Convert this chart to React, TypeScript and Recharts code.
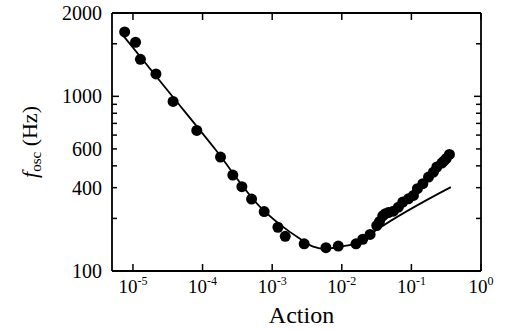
import { ComposedChart, Line, XAxis, YAxis } from 'recharts';

// measured oscillation frequency vs. action (dots)
const actionPts = [
  7.6e-6, 1.09e-5, 1.28e-5, 2.14e-5, 3.77e-5, 8.26e-5, 1.81e-4, 2.72e-4, 3.67e-4, 5.06e-4,
  7.68e-4, 1.21e-3, 1.54e-3, 2.88e-3, 5.92e-3, 8.9e-3, 0.016, 0.02, 0.0255, 0.0318,
  0.0348, 0.0388, 0.0423, 0.0467, 0.0551, 0.065, 0.0752, 0.0905, 0.107, 0.122,
  0.146, 0.176, 0.207, 0.232, 0.274, 0.294, 0.316, 0.352,
];
const freqPts = [
  2336, 2040, 1630, 1343, 935, 638, 449, 354, 304, 258,
  219, 178, 158, 143, 136, 139, 143, 152, 162, 182,
  192, 207, 213, 216, 220, 232, 248, 259, 271, 296,
  316, 345, 368, 394, 415, 427, 440, 465,
];

// fitted curve (solid line)
const actionFit = [7.18e-6, 3.37e-5, 1.5e-4, 6.65e-4, 1.29e-3, 2.51e-3, 3.89e-3, 5.92e-3, 9.42e-3, 0.016, 0.0204, 0.0318, 0.369];
const freqFit = [2237, 1045, 501, 234, 185, 153, 138, 134, 138, 144, 152, 172, 302];

const xTicks = [1e-5, 1e-4, 1e-3, 1e-2, 1e-1, 1];
const yTicks = [100, 200, 300, 400, 500, 600, 700, 800, 900, 1000, 2000, 3000];
const yMajor = [100, 1000];
// labels as printed on the original figure
const yTickLabels: Record<number, string> = { 100: '100', 300: '400', 500: '600', 1000: '1000', 3000: '2000' };

const points = actionPts.map((a, i) => ({ a, f: freqPts[i] }));
const fit = actionFit.map((a, i) => ({ a, f: freqFit[i] }));

const FONT = '"Liberation Serif", "Times New Roman", serif';
const AXIS = { stroke: '#000', strokeWidth: 1.8 };

function BottomTick({ x, y, payload }: any) {
  const exp = Math.round(Math.log10(payload.value));
  return (
    <g>
      <line x1={x} x2={x} y1={y} y2={y - 7} stroke="#000" strokeWidth={1.5} />
      <text x={x} y={y + 22} textAnchor="middle" fontFamily={FONT} fontSize={19} fill="#000">
        10<tspan dy={-8} fontSize={12}>{String(exp)}</tspan>
      </text>
    </g>
  );
}

function TopTick({ x, y }: any) {
  return <line x1={x} x2={x} y1={y} y2={y + 7} stroke="#000" strokeWidth={1.5} />;
}

function LeftTick({ x, y, payload }: any) {
  const len = yMajor.includes(payload.value) ? 7 : 5;
  const label = yTickLabels[payload.value];
  return (
    <g>
      <line x1={x} x2={x + len} y1={y} y2={y} stroke="#000" strokeWidth={1.5} />
      {label && (
        <text x={x - 10} y={y} dy="0.35em" textAnchor="end" fontFamily={FONT} fontSize={20} fill="#000">
          {label}
        </text>
      )}
    </g>
  );
}

function RightTick({ x, y, payload }: any) {
  const len = yMajor.includes(payload.value) ? 7 : 5;
  return <line x1={x} x2={x - len} y1={y} y2={y} stroke="#000" strokeWidth={1.5} />;
}

const yLabel = ({ viewBox }: any) => {
  const cx = viewBox.x + 37;
  const cy = viewBox.y + viewBox.height / 2;
  return (
    <text x={cx} y={cy} transform={`rotate(-90 ${cx} ${cy})`} textAnchor="middle" fontFamily={FONT} fontSize={22} fill="#000">
      <tspan fontStyle="italic">f</tspan>
      <tspan fontSize={15} dy={4}>osc</tspan>
      <tspan dy={-4}> (Hz)</tspan>
    </text>
  );
};

const xLabel = ({ viewBox }: any) => (
  <text x={viewBox.x + viewBox.width / 2 + 5} y={323} textAnchor="middle" fontFamily={FONT} fontSize={24} fill="#000">
    Action
  </text>
);

export default function App() {
  return (
    <div style={{ position: 'absolute', left: 0, top: 0, background: '#fff' }}>
      <ComposedChart width={505} height={331} margin={{ top: 0, right: 0, bottom: 0, left: 0 }}>
        <XAxis
          dataKey="a"
          type="number"
          scale="log"
          domain={[5e-6, 1]}
          allowDataOverflow
          ticks={xTicks}
          interval={0}
          height={60}
          tickSize={0}
          tickMargin={0}
          tickLine={false}
          axisLine={AXIS}
          tick={<BottomTick />}
          label={xLabel}
        />
        <XAxis
          xAxisId="top"
          orientation="top"
          dataKey="a"
          type="number"
          scale="log"
          domain={[5e-6, 1]}
          allowDataOverflow
          ticks={xTicks}
          interval={0}
          height={13}
          tickSize={0}
          tickMargin={0}
          tickLine={false}
          axisLine={AXIS}
          tick={<TopTick />}
        />
        <YAxis
          type="number"
          scale="log"
          domain={[100, 3000]}
          allowDataOverflow
          ticks={yTicks}
          interval={0}
          width={112}
          tickSize={0}
          tickMargin={0}
          tickLine={false}
          axisLine={AXIS}
          tick={<LeftTick />}
          label={yLabel}
        />
        <YAxis
          yAxisId="right"
          orientation="right"
          type="number"
          scale="log"
          domain={[100, 3000]}
          allowDataOverflow
          ticks={yTicks}
          interval={0}
          width={24}
          tickSize={0}
          tickMargin={0}
          tickLine={false}
          axisLine={AXIS}
          tick={<RightTick />}
        />
        <Line
          data={fit}
          dataKey="f"
          type="monotone"
          stroke="#000"
          strokeWidth={1.8}
          dot={false}
          isAnimationActive={false}
        />
        <Line
          data={points}
          dataKey="f"
          stroke="none"
          dot={{ r: 5.5, fill: '#000', stroke: 'none' }}
          isAnimationActive={false}
        />
      </ComposedChart>
    </div>
  );
}
